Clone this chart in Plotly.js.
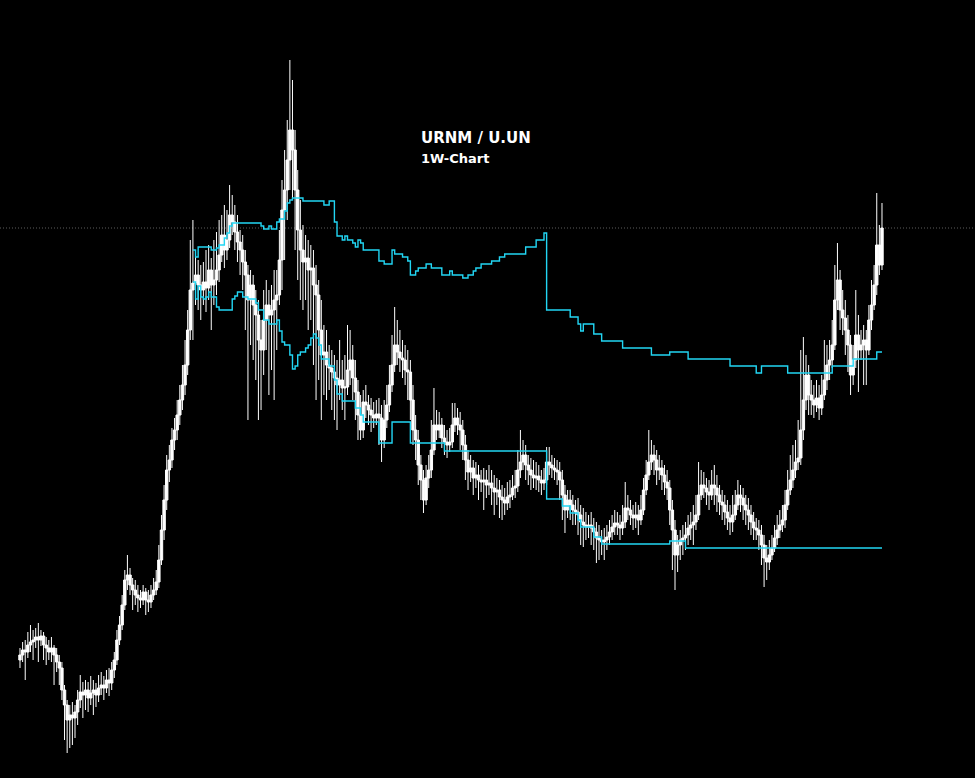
<!DOCTYPE html>
<html>
<head>
<meta charset="utf-8">
<script src="https://cdn.plot.ly/plotly-3.0.1.min.js"></script>
<style>
html,body{margin:0;padding:0;background:#000;}
#chart{width:975px;height:778px;}
</style>
</head>
<body>
<div id="chart"></div>
<script>
// URNM / U.UN weekly candles (ratio values)
const open = [
1.40,1.45,1.50,1.48,1.55,1.58,1.60,1.63,1.60,1.64,
1.55,1.52,1.48,1.52,1.45,1.38,1.32,1.10,0.95,0.80,
0.85,0.82,0.88,1.00,1.08,1.05,1.10,1.02,1.07,1.10,
1.05,1.12,1.15,1.12,1.20,1.17,1.30,1.40,1.60,1.75,
1.95,2.20,2.25,2.15,2.10,2.05,2.02,2.00,2.08,2.00,
1.98,2.05,2.10,2.18,2.40,2.70,3.00,3.30,3.40,3.60,
3.70,3.85,4.00,4.15,4.35,4.70,5.10,5.17,5.25,5.15,
5.10,5.18,5.12,5.30,5.15,5.20,5.30,5.45,5.65,5.50,
5.60,5.85,5.78,5.68,5.58,5.50,5.38,5.25,5.00,5.15,
4.95,4.85,4.60,4.50,4.80,4.95,4.85,4.90,5.00,5.05,
5.40,5.90,6.10,6.40,6.70,6.50,6.10,5.70,5.50,5.38,
5.42,5.30,5.32,5.15,5.05,4.70,4.45,4.48,4.35,4.32,
4.28,4.22,4.15,4.20,4.12,4.13,4.30,4.40,4.22,4.08,
3.85,3.70,3.98,3.95,3.90,3.85,3.82,3.86,3.82,3.60,
3.80,3.95,4.15,4.35,4.55,4.48,4.42,4.40,4.30,4.28,
4.00,3.70,3.60,3.35,3.20,3.00,3.22,3.30,3.50,3.75,
3.70,3.75,3.62,3.58,3.55,3.58,3.75,3.82,3.75,3.70,
3.55,3.40,3.28,3.32,3.22,3.25,3.20,3.18,3.20,3.15,
3.17,3.12,3.08,3.10,3.03,3.00,2.97,3.03,3.05,3.12,
3.14,3.30,3.38,3.45,3.35,3.30,3.25,3.22,3.24,3.20,
3.17,3.20,3.38,3.35,3.32,3.30,3.28,3.20,3.05,2.90,
3.00,2.95,2.90,2.88,2.85,2.78,2.75,2.73,2.75,2.72,
2.68,2.62,2.60,2.58,2.60,2.63,2.68,2.73,2.77,2.75,
2.72,2.78,2.92,2.90,2.85,2.82,2.85,2.80,2.90,3.10,
3.25,3.38,3.45,3.40,3.30,3.32,3.25,3.18,3.12,2.90,
2.70,2.45,2.55,2.60,2.62,2.65,2.72,2.75,2.78,2.85,
3.05,3.15,3.12,3.08,3.05,3.15,3.12,3.05,2.98,2.95,
2.88,2.82,2.78,2.85,2.95,3.05,3.02,2.95,2.90,2.85,
2.78,2.72,2.70,2.65,2.55,2.42,2.38,2.45,2.52,2.62,
2.70,2.75,2.80,2.95,3.10,3.20,3.30,3.38,3.42,3.70,
4.00,4.25,4.05,4.00,3.95,4.02,3.92,4.05,4.20,4.35,
4.40,4.55,5.00,5.20,4.90,4.82,4.70,4.55,4.25,4.40,
4.65,4.50,4.55,4.60,4.50,4.80,4.95,5.15,5.55,5.35
];
const high = [
1.52,1.58,1.60,1.68,1.75,1.70,1.72,1.77,1.70,1.68,
1.63,1.60,1.63,1.55,1.52,1.45,1.38,1.15,1.00,0.95,
0.98,0.95,1.10,1.25,1.18,1.20,1.18,1.24,1.20,1.17,
1.25,1.28,1.24,1.30,1.32,1.38,1.48,1.70,1.84,2.05,
2.30,2.45,2.32,2.22,2.20,2.15,2.10,2.15,2.12,2.10,
2.15,2.22,2.30,2.55,2.85,3.15,3.45,3.55,3.72,3.82,
4.00,4.15,4.35,4.60,4.90,5.60,5.80,5.45,5.40,5.35,
5.38,5.50,5.55,5.42,5.60,5.68,5.80,5.85,5.95,5.90,
6.15,6.05,5.95,5.85,5.70,5.65,5.50,5.35,5.30,5.25,
5.10,5.00,4.80,5.10,5.20,5.10,5.15,5.30,5.30,5.70,
6.20,6.50,6.80,7.40,7.20,6.70,6.30,6.00,5.75,5.65,
5.60,5.55,5.50,5.35,5.20,5.00,4.75,4.70,4.55,4.50,
4.45,4.40,4.60,4.40,4.45,4.75,4.70,4.55,4.40,4.20,
4.05,4.10,4.15,4.05,4.02,3.98,4.00,4.02,3.95,4.00,
4.15,4.35,4.65,4.93,4.80,4.70,4.60,4.55,4.50,4.40,
4.15,3.85,3.70,3.45,3.30,3.35,3.45,3.80,4.12,3.90,
3.88,3.82,3.75,3.70,3.72,3.97,3.97,3.92,3.88,3.80,
3.65,3.50,3.45,3.40,3.38,3.35,3.30,3.32,3.30,3.35,
3.30,3.25,3.22,3.20,3.15,3.12,3.18,3.20,3.25,3.30,
3.50,3.70,3.60,3.55,3.45,3.42,3.40,3.38,3.35,3.30,
3.32,3.53,3.53,3.45,3.42,3.40,3.38,3.30,3.15,3.10,
3.10,3.05,3.00,3.02,2.95,2.92,2.88,2.85,2.88,2.82,
2.78,2.75,2.70,2.72,2.75,2.80,2.85,2.90,2.88,2.85,
2.95,3.18,3.05,3.00,2.95,2.98,2.95,3.05,3.22,3.40,
3.70,3.60,3.55,3.50,3.45,3.40,3.35,3.30,3.20,3.00,
2.80,2.65,2.70,2.75,2.78,2.85,2.88,2.95,3.05,3.38,
3.30,3.28,3.22,3.20,3.30,3.35,3.25,3.15,3.10,3.05,
3.00,2.95,3.05,3.10,3.20,3.15,3.12,3.05,3.02,2.95,
2.88,2.82,2.80,2.75,2.65,2.55,2.60,2.65,2.75,2.85,
2.90,2.95,3.10,3.30,3.45,3.55,3.60,3.80,4.50,4.63,
4.45,4.35,4.20,4.15,4.20,4.15,4.25,4.60,4.55,4.60,
4.80,5.35,5.57,5.30,5.10,5.00,4.85,4.65,4.55,5.10,
4.85,4.70,4.75,4.70,4.95,5.20,5.35,6.07,5.75,5.97
];
const low = [
1.32,1.38,1.20,1.42,1.48,1.40,1.52,1.38,1.54,1.40,
1.35,1.40,1.38,1.15,1.28,1.15,1.00,0.60,0.47,0.52,
0.55,0.62,0.75,0.92,0.82,0.90,0.88,0.95,0.85,0.93,
0.98,1.05,1.00,1.07,1.04,1.10,1.22,1.35,1.55,1.70,
1.90,2.10,2.05,1.90,1.95,1.88,1.92,1.95,1.85,1.88,
1.92,2.00,2.05,2.12,2.35,2.60,2.90,3.18,3.32,3.50,
3.60,3.75,3.90,4.05,4.25,4.60,4.60,4.95,4.90,4.80,
4.95,4.88,5.00,4.70,4.95,5.05,5.18,5.38,5.32,5.40,
5.52,5.65,5.50,5.38,5.25,5.10,4.70,3.80,4.55,4.40,
4.20,3.80,3.90,4.25,4.50,4.05,4.30,4.00,4.50,4.95,
5.10,5.40,5.80,6.10,6.00,5.50,5.20,5.00,4.90,5.00,
4.70,4.80,4.35,4.00,4.20,3.80,4.05,4.00,4.10,3.90,
3.80,3.70,4.00,3.90,3.80,4.05,4.15,4.00,3.80,3.60,
3.60,3.62,3.82,3.75,3.68,3.72,3.75,3.55,3.38,3.52,
3.72,3.88,4.08,4.28,4.35,4.28,4.22,4.15,4.00,3.80,
3.55,3.40,3.15,3.00,2.87,2.95,3.12,3.22,3.45,3.60,
3.62,3.52,3.45,3.42,3.48,3.52,3.68,3.65,3.50,3.40,
3.20,3.10,3.18,3.05,3.12,3.00,3.08,2.90,3.02,3.05,
2.95,2.85,2.95,2.82,2.80,2.85,2.90,2.92,3.00,3.02,
3.08,3.22,3.30,3.20,3.15,3.10,3.12,3.10,3.08,3.05,
3.10,3.15,3.25,3.22,3.20,3.15,3.00,2.80,2.67,2.82,
2.80,2.75,2.75,2.65,2.55,2.53,2.60,2.62,2.55,2.50,
2.37,2.40,2.45,2.40,2.50,2.55,2.60,2.65,2.65,2.60,
2.65,2.72,2.80,2.75,2.70,2.72,2.65,2.75,2.85,3.05,
3.20,3.30,3.25,3.15,3.20,3.10,3.05,3.00,2.75,2.30,
2.10,2.28,2.40,2.45,2.50,2.55,2.60,2.55,2.70,2.80,
3.00,3.02,2.95,2.90,3.00,2.95,2.88,2.85,2.80,2.75,
2.70,2.65,2.68,2.80,2.90,2.88,2.80,2.75,2.70,2.65,
2.60,2.60,2.50,2.35,2.13,2.20,2.30,2.40,2.48,2.55,
2.62,2.68,2.72,2.90,3.05,3.12,3.22,3.30,3.35,3.60,
3.90,3.85,3.85,3.82,3.88,3.80,3.85,4.00,4.10,4.20,
4.32,4.50,4.90,4.70,4.65,4.45,4.28,4.05,4.15,4.32,
4.08,4.40,4.15,4.15,4.45,4.70,4.90,5.05,5.25,5.30
];
const close = [
1.45,1.50,1.48,1.55,1.58,1.60,1.63,1.60,1.64,1.55,
1.52,1.48,1.52,1.45,1.38,1.32,1.10,0.95,0.80,0.85,
0.82,0.88,1.00,1.08,1.05,1.10,1.02,1.07,1.10,1.05,
1.12,1.15,1.12,1.20,1.17,1.30,1.40,1.60,1.75,1.95,
2.20,2.25,2.15,2.10,2.05,2.02,2.00,2.08,2.00,1.98,
2.05,2.10,2.18,2.40,2.70,3.00,3.30,3.40,3.60,3.70,
3.85,4.00,4.15,4.35,4.70,5.10,5.17,5.25,5.15,5.10,
5.18,5.12,5.30,5.15,5.20,5.30,5.45,5.65,5.50,5.60,
5.85,5.78,5.68,5.58,5.50,5.38,5.25,5.00,5.15,4.95,
4.85,4.60,4.50,4.80,4.95,4.85,4.90,5.00,5.05,5.40,
5.90,6.10,6.40,6.70,6.50,6.10,5.70,5.50,5.38,5.42,
5.30,5.32,5.15,5.05,4.70,4.45,4.48,4.35,4.32,4.28,
4.22,4.15,4.20,4.12,4.13,4.30,4.40,4.22,4.08,3.85,
3.70,3.98,3.95,3.90,3.85,3.82,3.86,3.82,3.60,3.80,
3.95,4.15,4.35,4.55,4.48,4.42,4.40,4.30,4.28,4.00,
3.70,3.60,3.35,3.20,3.00,3.22,3.30,3.50,3.75,3.70,
3.75,3.62,3.58,3.55,3.58,3.75,3.82,3.75,3.70,3.55,
3.40,3.28,3.32,3.22,3.25,3.20,3.18,3.20,3.15,3.17,
3.12,3.08,3.10,3.03,3.00,2.97,3.03,3.05,3.12,3.14,
3.30,3.38,3.45,3.35,3.30,3.25,3.22,3.24,3.20,3.17,
3.20,3.38,3.35,3.32,3.30,3.28,3.20,3.05,2.90,3.00,
2.95,2.90,2.88,2.85,2.78,2.75,2.73,2.75,2.72,2.68,
2.62,2.60,2.58,2.60,2.63,2.68,2.73,2.77,2.75,2.72,
2.78,2.92,2.90,2.85,2.82,2.85,2.80,2.90,3.10,3.25,
3.38,3.45,3.40,3.30,3.32,3.25,3.18,3.12,2.90,2.70,
2.45,2.55,2.60,2.62,2.65,2.72,2.75,2.78,2.85,3.05,
3.15,3.12,3.08,3.05,3.15,3.12,3.05,2.98,2.95,2.88,
2.82,2.78,2.85,2.95,3.05,3.02,2.95,2.90,2.85,2.78,
2.72,2.70,2.65,2.55,2.42,2.38,2.45,2.52,2.62,2.70,
2.75,2.80,2.95,3.10,3.20,3.30,3.38,3.42,3.70,4.00,
4.25,4.05,4.00,3.95,4.02,3.92,4.05,4.20,4.35,4.40,
4.55,5.00,5.20,4.90,4.82,4.70,4.55,4.25,4.40,4.65,
4.50,4.55,4.60,4.50,4.80,4.95,5.15,5.55,5.35,5.72
];

// Upper step line (bar index where the level starts, level)
const upperX = [66,67,68,73,75,76,78,79,80,81,92,93,95,96,98,99,101,102,103,104,
108,116,118,120,121,123,124,125,127,128,129,130,131,137,139,142,143,146,148,149,
151,152,155,157,161,164,165,169,171,173,174,176,180,183,185,193,197,200,201,210,
213,214,215,219,222,230,241,248,255,271,281,283,293,310,318,327,329];
const upperY = [5.50,5.43,5.53,5.50,5.52,5.55,5.62,5.67,5.74,5.77,5.74,5.71,5.74,5.71,5.78,5.81,5.89,5.97,6.00,6.02,
5.99,5.95,5.99,5.78,5.64,5.60,5.64,5.60,5.57,5.53,5.60,5.57,5.50,5.39,5.36,5.50,5.46,5.43,5.39,5.25,
5.29,5.32,5.36,5.32,5.25,5.29,5.25,5.22,5.25,5.29,5.32,5.36,5.39,5.43,5.46,5.53,5.60,5.67,4.90,4.83,
4.76,4.69,4.76,4.66,4.59,4.52,4.45,4.48,4.41,4.34,4.27,4.34,4.27,4.34,4.41,4.48,4.48];

// Lower step line
const lowerX = [66,67,68,69,70,71,72,73,75,76,81,82,83,85,87,90,91,93,95,98,
99,100,101,103,104,105,106,107,109,110,111,112,113,114,115,118,120,121,123,128,
130,131,137,142,149,162,201,207,210,213,214,219,222,248,254,329];
const lowerY = [5.18,5.01,5.14,5.03,5.01,5.03,5.08,5.03,4.93,4.90,5.01,5.04,5.08,5.03,5.01,4.97,4.90,4.80,4.76,4.80,
4.69,4.58,4.55,4.45,4.31,4.34,4.45,4.48,4.52,4.55,4.62,4.66,4.62,4.55,4.41,4.34,4.20,4.06,3.99,3.92,
3.85,3.78,3.57,3.78,3.57,3.49,3.01,2.94,2.87,2.80,2.73,2.63,2.56,2.59,2.52,2.52];

const titleMain = 'URNM / U.UN';
const titleSub = '1W-Chart';

const barIndex = close.map((_, i) => i);
const lastClose = close[close.length - 1];

const white = {line: {color: '#ffffff', width: 1}, fillcolor: '#ffffff'};
const cyan = '#22d6f4';

const traces = [
  {
    type: 'candlestick',
    x: barIndex, open: open, high: high, low: low, close: close,
    increasing: white, decreasing: white,
    whiskerwidth: 0, hoverinfo: 'skip', showlegend: false
  },
  {
    type: 'scatter', mode: 'lines', x: upperX, y: upperY,
    line: {color: cyan, width: 1.4, shape: 'hv'}, hoverinfo: 'skip', showlegend: false
  },
  {
    type: 'scatter', mode: 'lines', x: lowerX, y: lowerY,
    line: {color: cyan, width: 1.4, shape: 'hv'}, hoverinfo: 'skip', showlegend: false
  }
];

const layout = {
  width: 975, height: 778,
  paper_bgcolor: '#000000', plot_bgcolor: '#000000',
  margin: {l: 0, r: 0, t: 0, b: 0, pad: 0},
  showlegend: false,
  boxgap: 0.08,
  boxgroupgap: 0,
  xaxis: {range: [-7.63, 364.5], visible: false, rangeslider: {visible: false}, fixedrange: true},
  yaxis: {range: [0.22, 8.0], visible: false, fixedrange: true},
  shapes: [{
    type: 'line', xref: 'paper', x0: 0, x1: 1, yref: 'y', y0: lastClose, y1: lastClose,
    line: {color: '#5c5c5c', width: 1, dash: '1px,2px'}, layer: 'below'
  }],
  annotations: [
    {text: '<b>' + titleMain + '</b>', xref: 'paper', yref: 'paper', x: 0.4295, y: 1 - 138.5 / 778,
     xanchor: 'left', yanchor: 'middle', showarrow: false,
     font: {family: 'DejaVu Sans', size: 15, color: '#ffffff'}},
    {text: '<b>' + titleSub + '</b>', xref: 'paper', yref: 'paper', x: 0.4295, y: 1 - 159 / 778,
     xanchor: 'left', yanchor: 'middle', showarrow: false,
     font: {family: 'DejaVu Sans', size: 13, color: '#ffffff'}}
  ]
};

Plotly.newPlot('chart', traces, layout, {displayModeBar: false, staticPlot: true});
</script>
</body>
</html>
